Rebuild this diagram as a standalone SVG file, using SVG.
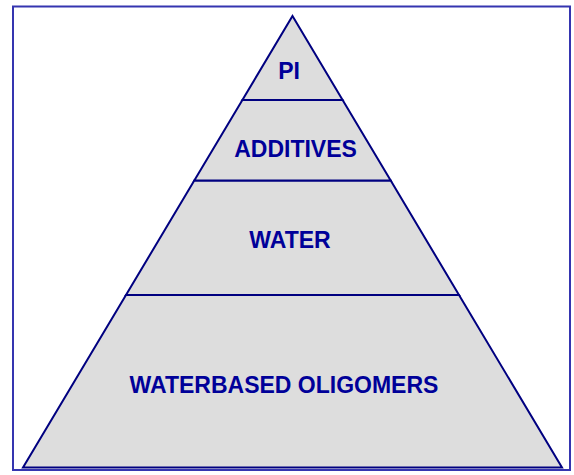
<svg xmlns="http://www.w3.org/2000/svg" width="574" height="475" viewBox="0 0 574 475">
  <style>
    .layer { fill: #dddddd; stroke: #000080; stroke-width: 2; stroke-linejoin: miter; }
    .lbl { font-family: "Liberation Sans", Arial, sans-serif; font-weight: bold; font-size: 23px; fill: #000099; text-anchor: middle; }
  </style>
  <rect x="0" y="0" width="574" height="475" fill="#ffffff"/>
  <rect x="13" y="6.5" width="557" height="463.5" fill="none" stroke="#3535b0" stroke-width="2"/>
  <g id="layer-oligomers">
    <polygon class="layer" points="126,295 459,295 562,467.5 23,467.5"/>
    <text class="lbl" x="284" y="393">WATERBASED OLIGOMERS</text>
  </g>
  <g id="layer-water">
    <polygon class="layer" points="194.3,180.5 390.7,180.5 459,295 126,295"/>
    <text class="lbl" x="290" y="248">WATER</text>
  </g>
  <g id="layer-additives">
    <polygon class="layer" points="242.4,100 342.6,100 390.7,180.5 194.3,180.5"/>
    <text class="lbl" x="295.5" y="157">ADDITIVES</text>
  </g>
  <g id="layer-pi">
    <polygon class="layer" points="292.5,16 342.6,100 242.4,100"/>
    <text class="lbl" x="289" y="79">PI</text>
  </g>
  <g id="connectors"></g>
</svg>
